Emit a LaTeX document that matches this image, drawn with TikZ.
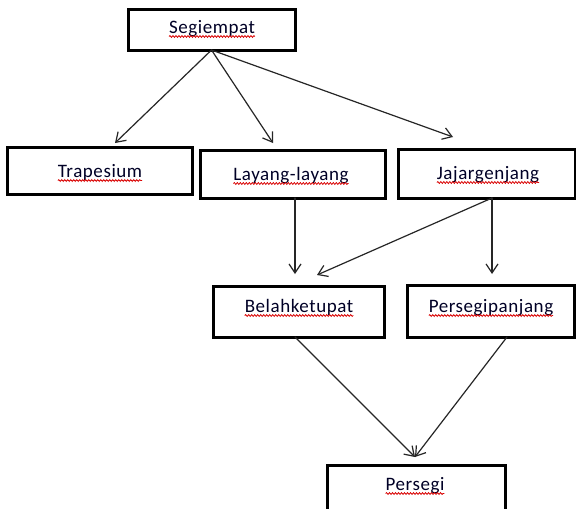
\documentclass[tikz,border=0pt]{standalone}
\usepackage{fontspec}
\setmainfont{Carlito}[LetterSpace=3]
\usetikzlibrary{arrows.meta,decorations.pathmorphing}
\begin{document}
\begin{tikzpicture}[x=1pt,y=-1pt,
  box/.style={draw=black,line width=3pt,fill=white,inner sep=0pt,outer sep=0pt},
  lbl/.style={inner sep=0pt,outer sep=0pt,anchor=base,font=\fontsize{19}{21}\selectfont,text=black!85!blue},
  spell/.style={draw=red!85!black,line width=0.8pt,decorate,decoration={snake,amplitude=0.9pt,segment length=3pt}},
  conn/.style={draw=black!85,line width=1.2pt,line cap=round,-{Straight Barb[length=9pt,width=12pt,line width=1.2pt]}}]
\clip (0,0) rectangle (576,509);
\fill[white] (0,0) rectangle (576,509);
% boxes
\node[box,minimum width=167pt,minimum height=41pt] (seg) at (211.5,29.5) {};
\node[box,minimum width=185pt,minimum height=47pt] (trap) at (99.5,170.5) {};
\node[box,minimum width=185pt,minimum height=48pt] (lay) at (292.5,174) {};
\node[box,minimum width=177pt,minimum height=49pt] (jaj) at (486.5,173.5) {};
\node[box,minimum width=171pt,minimum height=51pt] (bel) at (298.5,311.5) {};
\node[box,minimum width=167pt,minimum height=52pt] (pp) at (490.5,311) {};
\node[box,minimum width=178pt,minimum height=47pt] (per) at (416,488.5) {};
% labels
\node[lbl] (segt) at (212,33) {Segiempat};
\node[lbl] (trapt) at (100,177) {Trapesium};
\node[lbl] (layt) at (291,180) {Layang-layang};
\node[lbl] (jajt) at (488,179) {Jajargenjang};
\node[lbl] (belt) at (299,312) {Belahketupat};
\node[lbl] (ppt) at (491,312) {Persegipanjang};
\node[lbl] (pert) at (415,490) {Persegi};
% spell-check underlines
\foreach \t in {segt,trapt,layt,jajt,belt,ppt,pert}{
  \draw[spell] ([yshift=-3.5pt]\t.base west) -- ([yshift=-3.5pt]\t.base east);
}
% connectors
\draw[conn] (seg.south) -- ([shift={(15.5pt,4pt)}]trap.north);
\draw[conn] (seg.south) -- ([shift={(-19.5pt,7pt)}]lay.north);
\draw[conn] (seg.south) -- ([shift={(-33.5pt,12pt)}]jaj.north);
\draw[conn] ([xshift=2.5pt]lay.south) -- ([shift={(-3.5pt,12pt)}]bel.north);
\draw[conn] ([xshift=5.5pt]jaj.south) -- ([shift={(18.5pt,11pt)}]bel.north);
\draw[conn] ([xshift=5.5pt]jaj.south) -- ([shift={(1.5pt,11pt)}]pp.north);
\draw[conn] ([xshift=-3.5pt]bel.south) -- ([shift={(-1pt,8pt)}]per.north);
\draw[conn] ([xshift=16.5pt]pp.south) -- ([shift={(-1pt,8pt)}]per.north);
\end{tikzpicture}
\end{document}
